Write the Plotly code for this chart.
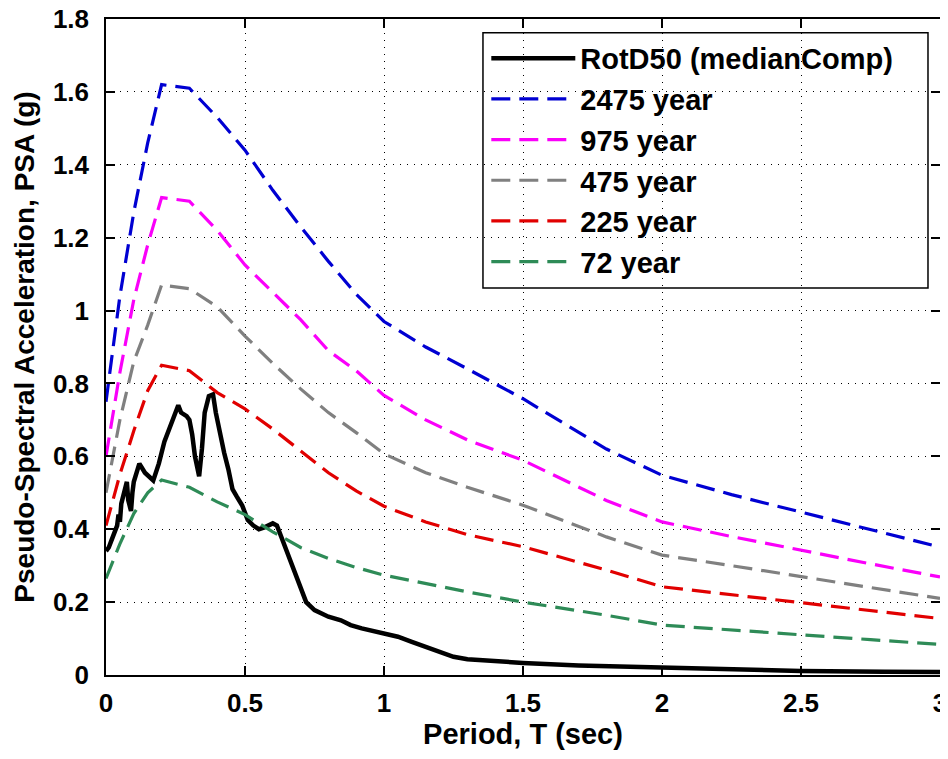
import plotly.graph_objects as go

# Uniform hazard spectra (period in sec, PSA in g)
uhs_period = [0, 0.05, 0.1, 0.15, 0.2, 0.3, 0.4, 0.5, 0.6, 0.7, 0.8, 0.9, 1.0,
              1.15, 1.3, 1.5, 1.8, 2.0, 2.25, 2.5, 2.75, 3.0]
psa_2475 = [0.75, 1.04, 1.27, 1.46, 1.62, 1.61, 1.53, 1.44, 1.33, 1.23, 1.135, 1.045, 0.97,
            0.90, 0.84, 0.758, 0.62, 0.548, 0.495, 0.447, 0.40, 0.351]
psa_975 = [0.60, 0.83, 1.03, 1.18, 1.31, 1.30, 1.22, 1.125, 1.05, 0.975, 0.89, 0.835, 0.767,
           0.70, 0.645, 0.589, 0.479, 0.42, 0.38, 0.342, 0.305, 0.269]
psa_475 = [0.50, 0.70, 0.86, 0.96, 1.07, 1.06, 1.01, 0.93, 0.855, 0.785, 0.72, 0.665, 0.607,
           0.555, 0.515, 0.466, 0.379, 0.329, 0.30, 0.27, 0.24, 0.21]
psa_225 = [0.41, 0.55, 0.67, 0.78, 0.85, 0.835, 0.775, 0.73, 0.675, 0.616, 0.555, 0.505, 0.463,
           0.42, 0.385, 0.352, 0.288, 0.242, 0.22, 0.20, 0.178, 0.155]
psa_72 = [0.265, 0.36, 0.443, 0.50, 0.535, 0.515, 0.475, 0.44, 0.393, 0.35, 0.32, 0.295, 0.274,
          0.25, 0.228, 0.20, 0.164, 0.137, 0.123, 0.11, 0.097, 0.084]

# RotD50 response spectrum of the record
rot_period = [0, 0.01, 0.02, 0.03, 0.04, 0.045, 0.05, 0.055, 0.065, 0.075, 0.08, 0.09, 0.095,
              0.1, 0.12, 0.14, 0.17, 0.19, 0.21, 0.23, 0.25, 0.26, 0.27, 0.29, 0.3, 0.31,
              0.32, 0.335, 0.345, 0.355, 0.37, 0.385, 0.395, 0.41, 0.425, 0.44, 0.455, 0.47,
              0.49, 0.51, 0.53, 0.55, 0.57, 0.6, 0.615, 0.63, 0.65, 0.665, 0.685, 0.7, 0.72,
              0.75, 0.8, 0.845, 0.88, 0.92, 1.0, 1.05, 1.1, 1.15, 1.2, 1.25, 1.3, 1.4, 1.5,
              1.7, 2.0, 2.3, 2.5, 2.8, 3.0]
rot_psa = [0.34, 0.35, 0.37, 0.39, 0.41, 0.44, 0.42, 0.47, 0.50, 0.53, 0.48, 0.45, 0.50,
           0.53, 0.58, 0.555, 0.534, 0.58, 0.64, 0.68, 0.72, 0.74, 0.72, 0.71, 0.70, 0.66,
           0.60, 0.545, 0.62, 0.72, 0.765, 0.77, 0.72, 0.66, 0.61, 0.565, 0.51, 0.49,
           0.465, 0.425, 0.41, 0.40, 0.405, 0.416, 0.41, 0.38, 0.34, 0.306, 0.265, 0.233, 0.20,
           0.178, 0.16, 0.15, 0.137, 0.128, 0.115, 0.105, 0.091, 0.078, 0.062, 0.05, 0.043, 0.037, 0.033,
           0.026, 0.02, 0.015, 0.011, 0.009, 0.008]

x_ticks = [0, 0.5, 1, 1.5, 2, 2.5, 3]
x_labels = ["0", "0.5", "1", "1.5", "2", "2.5", "3"]
y_ticks = [0, 0.2, 0.4, 0.6, 0.8, 1.0, 1.2, 1.4, 1.6, 1.8]
y_labels = ["0", "0.2", "0.4", "0.6", "0.8", "1", "1.2", "1.4", "1.6", "1.8"]

FONT = "Liberation Sans, Arial, sans-serif"

fig = go.Figure()
fig.add_trace(go.Scatter(x=rot_period, y=rot_psa, mode="lines", name="RotD50 (medianComp)",
                         line=dict(color="black", width=4.5)))

hazard = [("2475 year", psa_2475, "rgb(0,0,210)"),
          ("975 year", psa_975, "rgb(250,0,250)"),
          ("475 year", psa_475, "rgb(128,128,128)"),
          ("225 year", psa_225, "rgb(225,0,0)"),
          ("72 year", psa_72, "rgb(46,139,87)")]
for name, vals, col in hazard:
    fig.add_trace(go.Scatter(x=uhs_period, y=vals, mode="lines", name=name,
                             line=dict(color=col, width=3.2, dash="19px,9px")))

axis_common = dict(
    showline=True, linecolor="black", linewidth=1.5, mirror="ticks",
    ticks="inside", ticklen=9, tickwidth=1.5, tickcolor="black",
    showgrid=True, gridcolor="black", gridwidth=1, griddash="1px,6px",
    zeroline=False, automargin=False, ticklabeloverflow="allow",
    tickfont=dict(family=FONT, size=26, color="black", weight="bold"),
)

fig.update_xaxes(range=[0, 3], tickvals=x_ticks, ticktext=x_labels, ticklabelstandoff=4,
                 title=dict(text="Period, T (sec)", standoff=2,
                            font=dict(family=FONT, size=29, color="black", weight="bold")),
                 **axis_common)
fig.update_yaxes(range=[0, 1.8], tickvals=y_ticks, ticktext=y_labels, ticklabelstandoff=10,
                 title=dict(text="Pseudo-Spectral Acceleration, PSA (g)", standoff=10,
                            font=dict(family=FONT, size=28, color="black", weight="bold")),
                 **axis_common)

# legend frame drawn as a box so it can be wider than the legend text
fig.add_shape(type="rect", xref="paper", yref="paper", x0=0.452, x1=0.9856, y0=0.59, y1=0.979,
              line=dict(color="black", width=1.5), fillcolor="white", layer="between")

# the page body adds an 8px offset, so margins are shifted to keep the plot box in place
fig.update_layout(
    width=948, height=759,
    margin=dict(l=98, r=16, t=11, b=92),
    paper_bgcolor="white", plot_bgcolor="white",
    font=dict(family=FONT, color="black"),
    showlegend=True,
    legend=dict(x=0.456, y=0.979, xanchor="left", yanchor="top",
                bgcolor="rgba(0,0,0,0)", borderwidth=0,
                font=dict(family=FONT, size=29, color="black", weight="bold"),
                itemwidth=84, tracegroupgap=0),
)

fig.write_html("out.html")
